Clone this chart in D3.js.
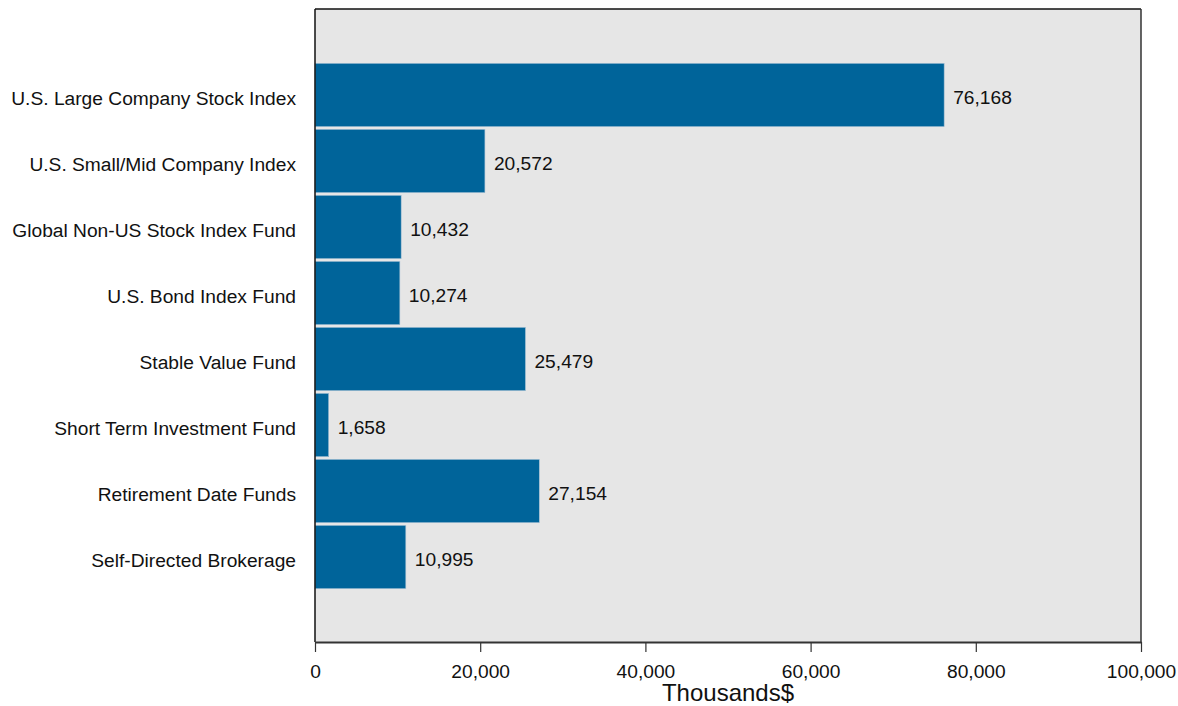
<!DOCTYPE html>
<html>
<head>
<meta charset="utf-8">
<script src="https://cdn.jsdelivr.net/npm/d3@7"></script>
<style>
  html, body { margin: 0; padding: 0; background: #fff; }
  svg { display: block; font-family: "Liberation Sans", Arial, sans-serif; }
</style>
</head>
<body>
<svg id="chart" width="1178" height="706"></svg>
<script>
const categories = [
  "U.S. Large Company Stock Index",
  "U.S. Small/Mid Company Index",
  "Global Non-US Stock Index Fund",
  "U.S. Bond Index Fund",
  "Stable Value Fund",
  "Short Term Investment Fund",
  "Retirement Date Funds",
  "Self-Directed Brokerage"
];
const values = [76168, 20572, 10432, 10274, 25479, 1658, 27154, 10995];
const xTicks = [0, 20000, 40000, 60000, 80000, 100000];
const xTitle = "Thousands$";

const svg = d3.select("#chart");
const L = 315, R = 1141, T = 9, B = 642;
const FS = 19.2;

const x = d3.scaleLinear().domain([0, 100000]).range([L, R]);
const y = d3.scaleBand().domain(categories).range([63.3, 588.7]).paddingInner(0.04).paddingOuter(0);

// plot background
svg.append("rect").attr("x", L).attr("y", T).attr("width", R - L).attr("height", B - T)
  .attr("fill", "#e6e6e6");

// bars
svg.append("g").selectAll("rect").data(values).join("rect")
  .attr("x", x(0))
  .attr("y", (d, i) => y(categories[i]))
  .attr("width", d => x(d) - x(0))
  .attr("height", y.bandwidth())
  .attr("fill", "#00649a")
  .attr("stroke", "#a9c3d6")
  .attr("stroke-width", 0.6);

// value labels
const fmt = d3.format(",");
svg.append("g").selectAll("text").data(values).join("text")
  .attr("x", d => x(d) + 9)
  .attr("y", (d, i) => y(categories[i]) + y.bandwidth() / 2 + 2)
  .attr("dy", "0.35em")
  .attr("font-size", FS)
  .attr("fill", "#111")
  .text(d => fmt(d));

// frame lines
svg.append("line").attr("x1", L).attr("x2", R).attr("y1", T).attr("y2", T).attr("stroke", "#111").attr("stroke-width", 1.5);
svg.append("line").attr("x1", R).attr("x2", R).attr("y1", T).attr("y2", B).attr("stroke", "#333").attr("stroke-width", 1.5);

// y axis
const yAxis = svg.append("g").attr("transform", `translate(${L},0)`)
  .call(d3.axisLeft(y).tickSize(0).tickPadding(19));
yAxis.select(".domain").attr("stroke", "#111").attr("stroke-width", 1.5).attr("d", `M0,${T}V${B}`);
yAxis.selectAll("text").attr("font-size", FS).attr("fill", "#111")
  .attr("font-family", "Liberation Sans, Arial, sans-serif")
  .attr("y", 3.5);

// x axis
const xAxis = svg.append("g").attr("transform", `translate(0,${B})`)
  .call(d3.axisBottom(x).tickValues(xTicks).tickFormat(fmt).tickSize(10).tickSizeOuter(0).tickPadding(12.5));
xAxis.select(".domain").attr("stroke", "#333").attr("stroke-width", 2);
xAxis.selectAll(".tick line").attr("stroke", "#333").attr("stroke-width", 1.2);
xAxis.selectAll("text").attr("font-size", FS).attr("fill", "#111").attr("font-family", "Liberation Sans, Arial, sans-serif");

// x title
svg.append("text").attr("x", (L + R) / 2).attr("y", 701)
  .attr("text-anchor", "middle").attr("font-size", 24).attr("fill", "#111").text(xTitle);
</script>
</body>
</html>
